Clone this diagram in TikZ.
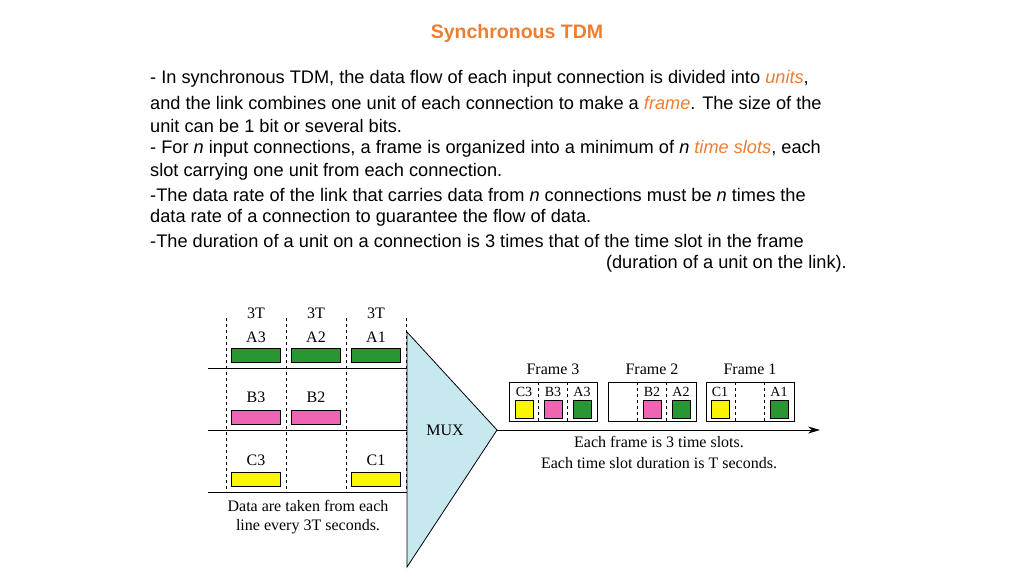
\documentclass[tikz,border=0pt]{standalone}
\usepackage{fontspec}
\setmainfont{Liberation Sans}
\newfontfamily\figfont{Liberation Serif}
\usetikzlibrary{positioning,arrows.meta}
\definecolor{orangeT}{RGB}{237,125,49}
\definecolor{barG}{RGB}{40,150,50}
\definecolor{barP}{RGB}{240,100,180}
\definecolor{barY}{RGB}{250,245,0}
\definecolor{muxC}{RGB}{200,232,240}
\tikzset{
  bar/.style={draw=black, minimum width=49pt, minimum height=14pt, inner sep=0pt},
  sq/.style={draw=black, minimum size=18pt, inner sep=0pt},
  lbl/.style={font=\figfont\fontsize{16}{18}\selectfont, inner sep=1pt},
  txt/.style={anchor=west, font=\fontsize{18.2}{20}\selectfont, inner sep=0pt},
  frm/.style={draw=black, minimum width=88pt, minimum height=39pt, inner sep=0pt},
}
\newcommand{\hl}[1]{\textcolor{orangeT}{\textit{#1}}}
\begin{document}
\begin{tikzpicture}[x=1pt,y=-1pt]
\useasboundingbox (0,0) rectangle (1024,576);
% title and text
\node[font=\bfseries\fontsize{19.5}{21}\selectfont, text=orangeT] (title) at (517,33) {Synchronous TDM};
\node[txt] (t1) at (150,79) {- In synchronous TDM, the data flow of each input connection is divided into \hl{units},};
\node[txt] (t2) at (150,103) {and the link combines one unit of each connection to make a \hl{frame}. The size of the};
\node[txt] (t3) at (150,126) {unit can be 1 bit or several bits.};
\node[txt] (t4) at (150,149) {- For \textit{n} input connections, a frame is organized into a minimum of \textit{n} \hl{time slots}, each};
\node[txt] (t5) at (150,172) {slot carrying one unit from each connection.};
\node[txt] (t6) at (150,195) {-The data rate of the link that carries data from \textit{n} connections must be \textit{n} times the};
\node[txt] (t7) at (150,218) {data rate of a connection to guarantee the flow of data.};
\node[txt] (t8) at (150,241) {-The duration of a unit on a connection is 3 times that of the time slot in the frame};
\node[txt, anchor=east] (t9) at (847,264) {(duration of a unit on the link).};
% input lines
\foreach \y/\n in {368/la,430/lb,492/lc} \draw[thick] (208,\y) -- (407,\y);
\foreach \x in {226,286,346,406} \draw[dashed] (\x,318) -- (\x,493);
% MUX
\draw[thick, fill=muxC] (407,332) -- (497,430) -- (407,567) -- cycle;
\node[lbl] (mux) at (445,430) {MUX};
% units
\foreach \x/\t in {256/A3,316/A2,376/A1} {
  \node[lbl] at (\x,313) {3T};
  \node[lbl] at (\x,337) {\t};
  \node[bar, fill=barG] (bar\t) at (\x,355) {};
}
\foreach \x/\t in {256/B3,316/B2} {
  \node[lbl] at (\x,397) {\t};
  \node[bar, fill=barP] (bar\t) at (\x,417) {};
}
\foreach \x/\t in {256/C3,376/C1} {
  \node[lbl] at (\x,460) {\t};
  \node[bar, fill=barY] (bar\t) at (\x,479) {};
}
\node[lbl] (note1) at (308,506) {Data are taken from each};
\node[lbl] (note2) at (308,527) {line every 3T seconds.};
% output link
\coordinate (tip) at (497,430);
\coordinate (out) at (820,430);
\draw[thick,-{Stealth[length=12pt,width=7pt]}] (tip) -- (out);
\foreach \c/\k in {553/3,652/2,750/1} {
  \node[frm] (f\k) at (\c,401.5) {};
  \node[lbl] at (\c,369) {Frame \k};
  \draw[dashed] (\c-14.5,382) -- (\c-14.5,421);
  \draw[dashed] (\c+14.5,382) -- (\c+14.5,421);
}
\foreach \x/\t/\f in {524/C3/barY,553/B3/barP,582/A3/barG,652/B2/barP,681/A2/barG,720/C1/barY,779/A1/barG} {
  \node[lbl, font=\figfont\fontsize{14}{15}\selectfont] at (\x,392) {\t};
  \node[sq, fill=\f] (sq\t) at (\x,409) {};
}
\node[lbl] (cap1) at (659,442) {Each frame is 3 time slots.};
\node[lbl] (cap2) at (659,463) {Each time slot duration is T seconds.};
\end{tikzpicture}
\end{document}
